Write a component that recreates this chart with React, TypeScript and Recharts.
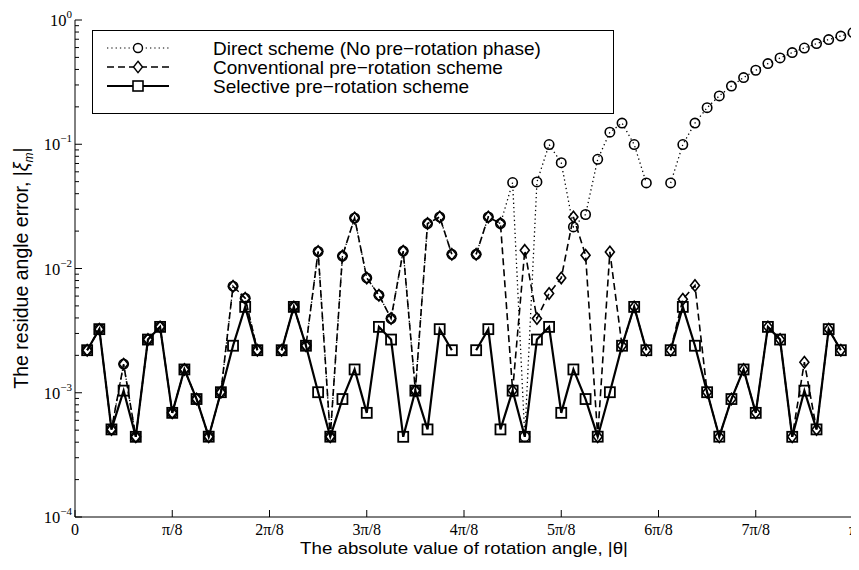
import React from 'react';
import { LineChart, Line, XAxis, YAxis, Legend } from 'recharts';

const SERIF = '"Liberation Serif", "DejaVu Serif", serif';
const SANS = '"Liberation Sans", Arial, sans-serif';

// sample index n, angle = n * pi / 64
const angleIndex = [
  1, 2, 3, 4, 5, 6, 7, 8, 9, 10, 11, 12, 13, 14, 15, 16,
  17, 18, 19, 20, 21, 22, 23, 24, 25, 26, 27, 28, 29, 30, 31, 32,
  33, 34, 35, 36, 37, 38, 39, 40, 41, 42, 43, 44, 45, 46, 47, 48,
  49, 50, 51, 52, 53, 54, 55, 56, 57, 58, 59, 60, 61, 62, 63, 64,
];

const directScheme = [
  2.2e-3, 3.25e-3, 5.07e-4, 1.7e-3, 4.42e-4, 2.68e-3, 3.39e-3, 6.89e-4, 1.54e-3, 8.9e-4, 4.43e-4, 1.01e-3, 7.2e-3, 5.77e-3, 2.2e-3, null,
  2.2e-3, 4.91e-3, 2.39e-3, 1.37e-2, 4.43e-4, 1.26e-2, 2.55e-2, 8.4e-3, 6.1e-3, 3.96e-3, 1.38e-2, 1.04e-3, 2.3e-2, 2.6e-2, 1.3e-2, null,
  1.3e-2, 2.6e-2, 2.3e-2, 4.92e-2, 4.43e-4, 4.97e-2, 9.95e-2, 7.1e-2, 2.16e-2, 2.72e-2, 7.57e-2, 0.125, 0.148, 9.95e-2, 4.88e-2, null,
  4.88e-2, 9.95e-2, 0.148, 0.197, 0.245, 0.294, 0.344, 0.394, 0.446, 0.495, 0.547, 0.595, 0.646, 0.696, 0.743, 0.792,
];

const conventionalScheme = [
  2.2e-3, 3.25e-3, 5.07e-4, 1.7e-3, 4.42e-4, 2.68e-3, 3.39e-3, 6.89e-4, 1.54e-3, 8.9e-4, 4.43e-4, 1.01e-3, 7.2e-3, 5.77e-3, 2.2e-3, null,
  2.2e-3, 4.91e-3, 2.39e-3, 1.37e-2, 4.43e-4, 1.26e-2, 2.55e-2, 8.4e-3, 6.1e-3, 3.96e-3, 1.38e-2, 1.04e-3, 2.3e-2, 2.6e-2, 1.3e-2, null,
  1.3e-2, 2.6e-2, 2.3e-2, 1.04e-3, 1.4e-2, 3.96e-3, 6.3e-3, 8.4e-3, 2.6e-2, 1.28e-2, 4.43e-4, 1.36e-2, 2.39e-3, 4.91e-3, 2.2e-3, null,
  2.2e-3, 5.65e-3, 7.3e-3, 1.01e-3, 4.43e-4, 8.9e-4, 1.54e-3, 6.89e-4, 3.39e-3, 2.68e-3, 4.42e-4, 1.76e-3, 5.07e-4, 3.25e-3, 2.2e-3, null,
];

const selectiveScheme = [
  2.2e-3, 3.25e-3, 5.07e-4, 1.04e-3, 4.42e-4, 2.68e-3, 3.39e-3, 6.89e-4, 1.54e-3, 8.9e-4, 4.43e-4, 1.01e-3, 2.39e-3, 4.91e-3, 2.2e-3, null,
  2.2e-3, 4.91e-3, 2.39e-3, 1.01e-3, 4.43e-4, 8.9e-4, 1.54e-3, 6.89e-4, 3.39e-3, 2.68e-3, 4.42e-4, 1.04e-3, 5.07e-4, 3.25e-3, 2.2e-3, null,
  2.2e-3, 3.25e-3, 5.07e-4, 1.04e-3, 4.42e-4, 2.68e-3, 3.39e-3, 6.89e-4, 1.54e-3, 8.9e-4, 4.43e-4, 1.01e-3, 2.39e-3, 4.91e-3, 2.2e-3, null,
  2.2e-3, 4.91e-3, 2.39e-3, 1.01e-3, 4.43e-4, 8.9e-4, 1.54e-3, 6.89e-4, 3.39e-3, 2.68e-3, 4.42e-4, 1.04e-3, 5.07e-4, 3.25e-3, 2.2e-3, null,
];

// x ticks in multiples of pi/8
const angleTickSteps = [0, 1, 2, 3, 4, 5, 6, 7, 8];
const angleTickLabels = ['0', 'π/8', '2π/8', '3π/8', '4π/8', '5π/8', '6π/8', '7π/8', 'π'];

const errorMajorTicks = [1e-4, 1e-3, 1e-2, 1e-1, 1];
const errorMajorExp = ['−4', '−3', '−2', '−1', '0'];
const errorMinorTicks = [
  2e-4, 3e-4, 4e-4, 5e-4, 6e-4, 7e-4, 8e-4, 9e-4,
  2e-3, 3e-3, 4e-3, 5e-3, 6e-3, 7e-3, 8e-3, 9e-3,
  2e-2, 3e-2, 4e-2, 5e-2, 6e-2, 7e-2, 8e-2, 9e-2,
  2e-1, 3e-1, 4e-1, 5e-1, 6e-1, 7e-1, 8e-1, 9e-1,
];

const legendLabels = [
  'Direct scheme (No pre−rotation phase)',
  'Conventional pre−rotation scheme',
  'Selective pre−rotation scheme',
];

const angleTicks = angleTickSteps.map((s) => (s * Math.PI) / 8);
const errorTicks = [...errorMajorTicks, ...errorMinorTicks];

const data = angleIndex.map((n, i) => ({
  theta: (n * Math.PI) / 64,
  direct: directScheme[i],
  conventional: conventionalScheme[i],
  selective: selectiveScheme[i],
}));

const majorIndex = (v: number) => errorMajorTicks.findIndex((m) => Math.abs(m - v) / m < 1e-6);

const BottomTick = (props: any) => {
  const { x, y, payload } = props;
  const idx = Math.round(payload.value / (Math.PI / 8));
  return (
    <g>
      <line x1={x} y1={y} x2={x} y2={y - 7} stroke="#000" strokeWidth={1} />
      <text x={x} y={y + 18} textAnchor="middle" fontFamily={SERIF} fontSize={16} fill="#000">
        {angleTickLabels[idx]}
      </text>
    </g>
  );
};

const TopTick = (props: any) => {
  const { x, y } = props;
  return <line x1={x} y1={y} x2={x} y2={y + 7} stroke="#000" strokeWidth={1} />;
};

const LeftTick = (props: any) => {
  const { x, y, payload } = props;
  const mi = majorIndex(payload.value);
  if (mi < 0) return <line x1={x} y1={y} x2={x + 4} y2={y} stroke="#000" strokeWidth={1} />;
  return (
    <g>
      <line x1={x} y1={y} x2={x + 7} y2={y} stroke="#000" strokeWidth={1} />
      <text x={x - 3} y={y + 6} textAnchor="end" fontFamily={SERIF} fontSize={16.5} fill="#000">
        10
        <tspan fontSize={11} dy={-8}>
          {errorMajorExp[mi]}
        </tspan>
      </text>
    </g>
  );
};

const RightTick = (props: any) => {
  const { x, y, payload } = props;
  const len = majorIndex(payload.value) < 0 ? 4 : 7;
  return <line x1={x} y1={y} x2={x - len} y2={y} stroke="#000" strokeWidth={1} />;
};

const bad = (p: any) => p.cx == null || p.cy == null || Number.isNaN(p.cx) || Number.isNaN(p.cy) || p.value == null;

const circleDot = (p: any) =>
  bad(p) ? <g key={`c${p.index}`} /> : <circle key={`c${p.index}`} cx={p.cx} cy={p.cy} r={4.7} fill="none" stroke="#000" strokeWidth={1.6} />;

const diamondPath = (cx: number, cy: number) => `M${cx},${cy - 5.7}L${cx + 4.5},${cy}L${cx},${cy + 5.7}L${cx - 4.5},${cy}Z`;

const diamondDot = (p: any) =>
  bad(p) ? <g key={`d${p.index}`} /> : <path key={`d${p.index}`} d={diamondPath(p.cx, p.cy)} fill="none" stroke="#000" strokeWidth={1.6} />;

const squareDot = (p: any) =>
  bad(p) ? (
    <g key={`s${p.index}`} />
  ) : (
    <rect key={`s${p.index}`} x={p.cx - 5} y={p.cy - 5} width={10} height={10} fill="none" stroke="#000" strokeWidth={1.8} />
  );

const DOTTED = '1.3 3';
const DASHED = '7 4';

const LegendBox = () => {
  const rows = [17, 36, 55];
  return (
    <div style={{ width: 522, height: 84, boxSizing: 'border-box', border: '1px solid #000', background: '#fff' }}>
      <svg width={520} height={82} style={{ display: 'block' }}>
        <line x1={14} y1={rows[0]} x2={76} y2={rows[0]} stroke="#000" strokeWidth={1.2} strokeDasharray={DOTTED} />
        <circle cx={45} cy={rows[0]} r={4.5} fill="#fff" stroke="#000" strokeWidth={1.4} />
        <line x1={14} y1={rows[1]} x2={76} y2={rows[1]} stroke="#000" strokeWidth={1.6} strokeDasharray={DASHED} />
        <path d={diamondPath(45, rows[1])} fill="#fff" stroke="#000" strokeWidth={1.4} />
        <line x1={14} y1={rows[2]} x2={76} y2={rows[2]} stroke="#000" strokeWidth={2.2} />
        <rect x={40} y={rows[2] - 5} width={10} height={10} fill="#fff" stroke="#000" strokeWidth={1.6} />
        {legendLabels.map((t, i) => (
          <text key={t} x={120} y={rows[i] + 6.5} fontFamily={SANS} fontSize={19} fill="#000">
            {t}
          </text>
        ))}
      </svg>
    </div>
  );
};

export default function App() {
  return (
    <div style={{ position: 'relative', width: 851, height: 554 }}>
      <LineChart width={851} height={554} data={data} margin={{ top: 12, right: 6, bottom: 0, left: 0 }}>
        <XAxis
          dataKey="theta"
          type="number"
          domain={[0, Math.PI]}
          ticks={angleTicks}
          interval={0}
          height={45}
          tickSize={0}
          tickMargin={0}
          tickLine={false}
          tick={<BottomTick />}
          axisLine={{ stroke: '#000' }}
          allowDataOverflow
        />
        <XAxis
          xAxisId="top"
          orientation="top"
          type="number"
          domain={[0, Math.PI]}
          ticks={angleTicks}
          interval={0}
          height={0}
          tickSize={0}
          tickMargin={0}
          tickLine={false}
          tick={<TopTick />}
          axisLine={{ stroke: '#000' }}
          allowDataOverflow
        />
        <YAxis
          type="number"
          scale="log"
          domain={[1e-4, 1]}
          ticks={errorTicks}
          interval={0}
          width={67}
          tickSize={0}
          tickMargin={0}
          tickLine={false}
          tick={<LeftTick />}
          axisLine={{ stroke: '#000' }}
          allowDataOverflow
        />
        <YAxis
          yAxisId="right"
          orientation="right"
          type="number"
          scale="log"
          domain={[1e-4, 1]}
          ticks={errorTicks}
          interval={0}
          width={0}
          tickSize={0}
          tickMargin={0}
          tickLine={false}
          tick={<RightTick />}
          axisLine={{ stroke: '#000' }}
          allowDataOverflow
        />
        <Legend
          layout="vertical"
          verticalAlign="middle"
          align="center"
          wrapperStyle={{ position: 'absolute', left: 84, top: 22, width: 522, height: 84 }}
          content={() => <LegendBox />}
        />
        <Line
          type="linear"
          dataKey="direct"
          stroke="#000"
          strokeWidth={1.3}
          strokeDasharray={DOTTED}
          dot={circleDot}
          activeDot={false}
          connectNulls={false}
          isAnimationActive={false}
        />
        <Line
          type="linear"
          dataKey="conventional"
          stroke="#000"
          strokeWidth={1.6}
          strokeDasharray={DASHED}
          dot={diamondDot}
          activeDot={false}
          connectNulls={false}
          isAnimationActive={false}
        />
        <Line
          type="linear"
          dataKey="selective"
          stroke="#000"
          strokeWidth={2.2}
          dot={squareDot}
          activeDot={false}
          connectNulls={false}
          isAnimationActive={false}
        />
      </LineChart>
      <div
        style={{
          position: 'absolute',
          left: 15,
          top: 260,
          transform: 'translate(-50%, -50%) rotate(-90deg)',
          whiteSpace: 'nowrap',
          fontFamily: SANS,
          fontSize: 19.5,
          color: '#000',
        }}
      >
        The residue angle error, |<i>ξ</i>
        <sub style={{ fontSize: 12 }}>
          <i>m</i>
        </sub>
        |
      </div>
      <div
        style={{
          position: 'absolute',
          left: 456,
          top: 541,
          transform: 'translate(-50%, -50%) scaleX(1.1)',
          whiteSpace: 'nowrap',
          fontFamily: SANS,
          fontSize: 17,
          lineHeight: '18px',
          color: '#000',
        }}
      >
        The absolute value of rotation angle, |θ|
      </div>
    </div>
  );
}
